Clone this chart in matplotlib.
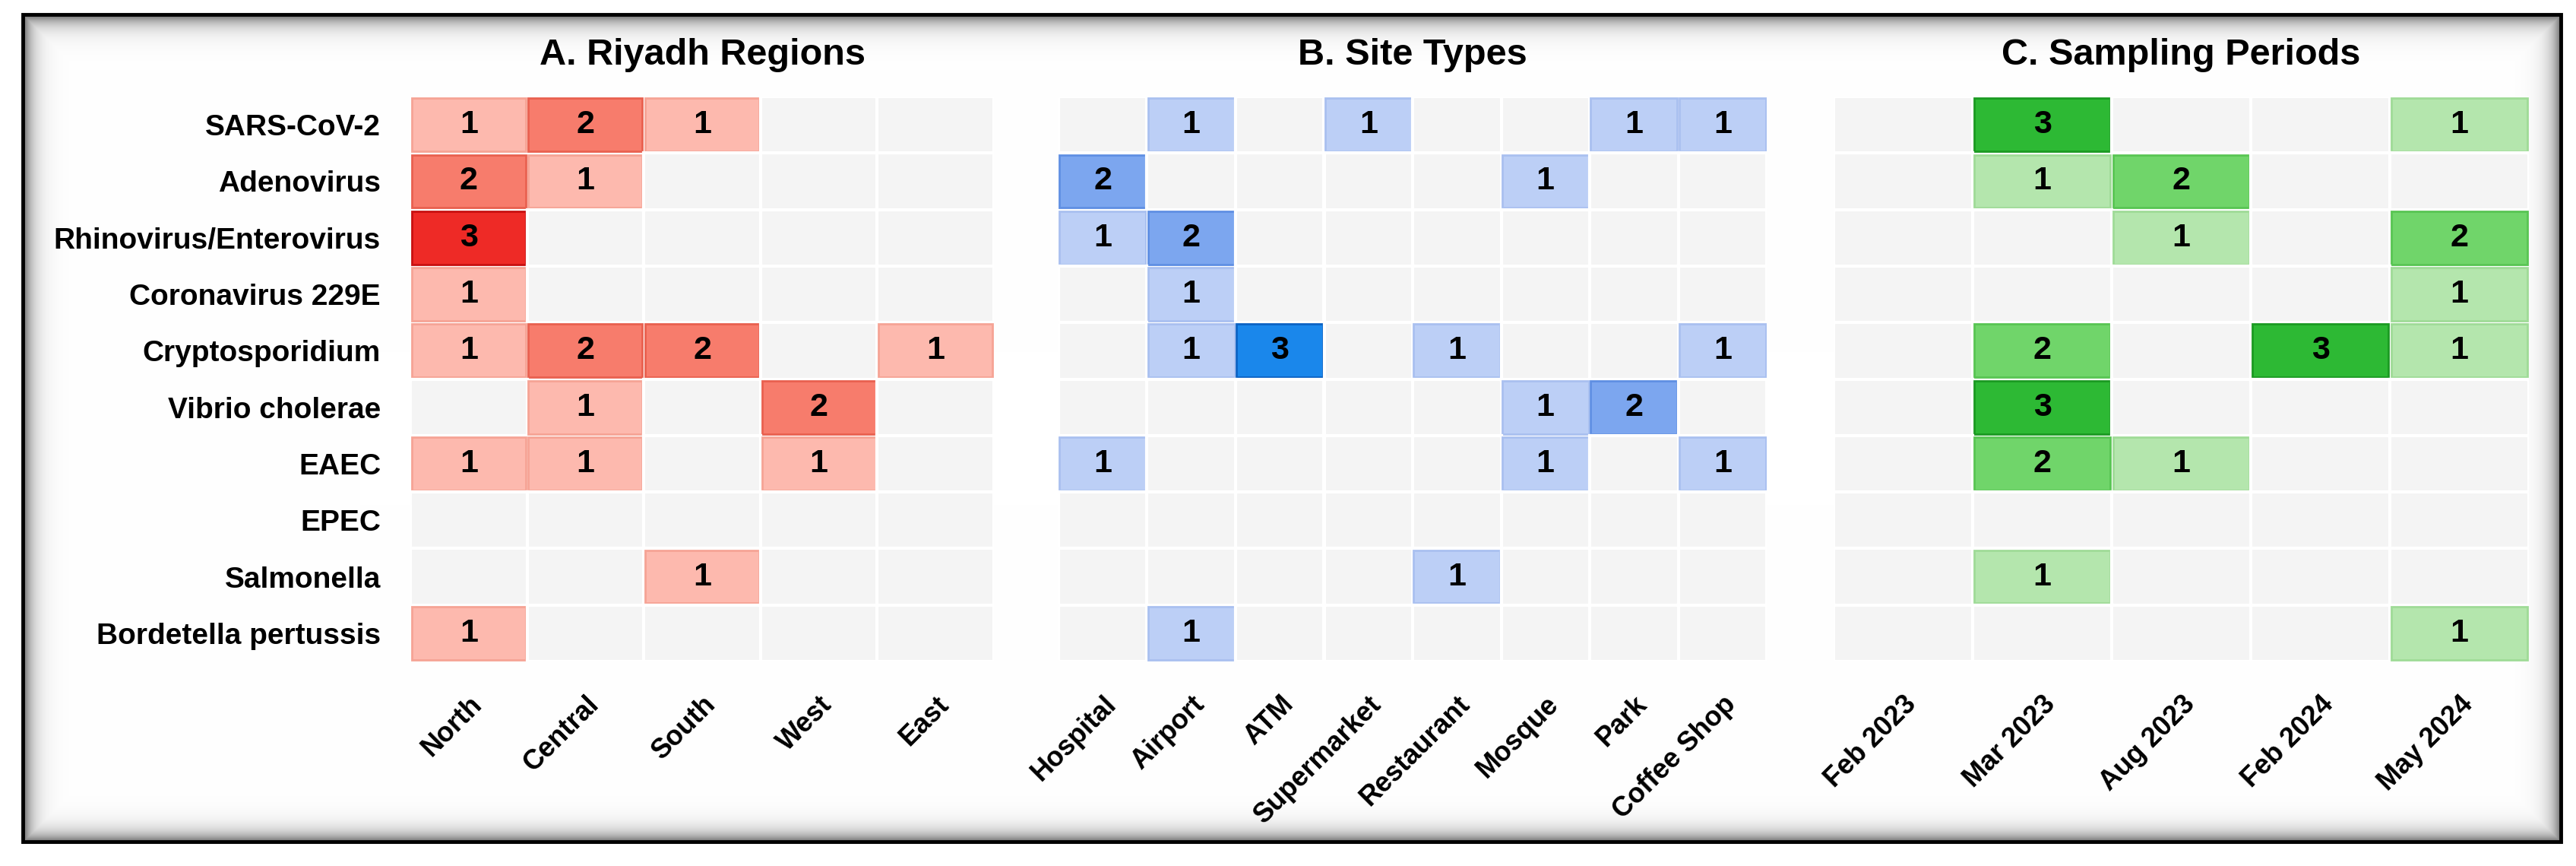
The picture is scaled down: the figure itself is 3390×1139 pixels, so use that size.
import numpy as np
import matplotlib
matplotlib.use('Agg')
import matplotlib.pyplot as plt
from matplotlib.patches import Rectangle

plt.rcParams['font.family'] = ['Liberation Sans', 'DejaVu Sans']
plt.rcParams['font.weight'] = 'bold'

# filas (patogenos)
pathogens = ['SARS-CoV-2', 'Adenovirus', 'Rhinovirus/Enterovirus', 'Coronavirus 229E',
             'Cryptosporidium', 'Vibrio cholerae', 'EAEC', 'EPEC', 'Salmonella',
             'Bordetella pertussis']

# A. regiones
regions = ['North', 'Central', 'South', 'West', 'East']
region_counts = [
    [1, 2, 1, 0, 0],
    [2, 1, 0, 0, 0],
    [3, 0, 0, 0, 0],
    [1, 0, 0, 0, 0],
    [1, 2, 2, 0, 1],
    [0, 1, 0, 2, 0],
    [1, 1, 0, 1, 0],
    [0, 0, 0, 0, 0],
    [0, 0, 1, 0, 0],
    [1, 0, 0, 0, 0],
]

# B. tipos de sitio
sites = ['Hospital', 'Airport', 'ATM', 'Supermarket', 'Restaurant', 'Mosque', 'Park', 'Coffee Shop']
site_counts = [
    [0, 1, 0, 1, 0, 0, 1, 1],
    [2, 0, 0, 0, 0, 1, 0, 0],
    [1, 2, 0, 0, 0, 0, 0, 0],
    [0, 1, 0, 0, 0, 0, 0, 0],
    [0, 1, 3, 0, 1, 0, 0, 1],
    [0, 0, 0, 0, 0, 1, 2, 0],
    [1, 0, 0, 0, 0, 1, 0, 1],
    [0, 0, 0, 0, 0, 0, 0, 0],
    [0, 0, 0, 0, 1, 0, 0, 0],
    [0, 1, 0, 0, 0, 0, 0, 0],
]

# C. periodos de muestreo
periods = ['Feb 2023', 'Mar 2023', 'Aug 2023', 'Feb 2024', 'May 2024']
period_counts = [
    [0, 3, 0, 0, 1],
    [0, 1, 2, 0, 0],
    [0, 0, 1, 0, 2],
    [0, 0, 0, 0, 1],
    [0, 2, 0, 3, 1],
    [0, 3, 0, 0, 0],
    [0, 2, 1, 0, 0],
    [0, 0, 0, 0, 0],
    [0, 1, 0, 0, 0],
    [0, 0, 0, 0, 1],
]

EMPTY = '#f4f4f4'
reds = ['#fdb9ae', '#f77c6c', '#ee2a26']
reds_edge = ['#f6a395', '#e9604f', '#c81010']
blues = ['#bccff6', '#7ca6ef', '#1a87eb']
blues_edge = ['#a9c0f0', '#5f8fe3', '#0b62c4']
greens = ['#b4e6ad', '#70d56a', '#2db934']
greens_edge = ['#9fdb97', '#58c553', '#1b9a22']

W, H = 3391, 1139
fig = plt.figure(figsize=(W / 100, H / 100), dpi=100)

# marco con sombra interior
bg = fig.add_axes([0, 0, 1, 1], zorder=-10)
x0, x1, y0, y1 = 32, 3368, 21, 1105
xx, yy = np.meshgrid(np.arange(W), np.arange(H))
d = np.minimum.reduce([xx - x0, x1 - xx, yy - y0, y1 - yy]).astype(float)
shade = np.where(d >= 0, 1 - 0.52 * np.exp(-np.clip(d, 0, None) / 12.0), 1.0)
img = np.dstack([shade, shade, shade])
bg.imshow(img, extent=[0, W, H, 0], aspect='auto', interpolation='nearest')
bg.add_patch(Rectangle((x0 - 2, y0 - 2), x1 - x0 + 4, y1 - y0 + 4, fill=False,
                       edgecolor='black', linewidth=3.5))
bg.set_xlim(0, W)
bg.set_ylim(H, 0)
bg.axis('off')


def draw_panel(rect, data, cols, title, colors, edges, show_rows):
    ax = fig.add_axes(rect)
    data = np.array(data)
    nr, nc = data.shape
    for i in range(nr):
        for j in range(nc):
            v = data[i, j]
            if v == 0:
                ax.add_patch(Rectangle((j, i), 1, 1, facecolor=EMPTY,
                                       edgecolor='white', linewidth=3))
            else:
                ax.add_patch(Rectangle((j, i), 1, 1, facecolor='white',
                                       edgecolor='white', linewidth=0))
                ax.add_patch(Rectangle((j + 0.012, i + 0.03), 0.976, 0.94,
                                       facecolor=colors[v - 1], edgecolor=edges[v - 1],
                                       linewidth=2))
                ax.text(j + 0.5, i + 0.5, str(v), ha='center', va='center',
                        fontsize=31, fontweight='bold', color='black')
    ax.set_xlim(0, nc)
    ax.set_ylim(nr, 0)
    ax.set_xticks(np.arange(nc) + 0.5)
    ax.set_xticklabels(cols, rotation=45, ha='right', rotation_mode='anchor',
                       fontsize=26, fontweight='bold')
    ax.set_yticks(np.arange(nr) + 0.5)
    if show_rows:
        ax.set_yticklabels(pathogens, fontsize=28, fontweight='bold')
    else:
        ax.set_yticklabels([])
    ax.tick_params(axis='both', length=0)
    ax.tick_params(axis='x', pad=28)
    ax.tick_params(axis='y', pad=28)
    for s in ax.spines.values():
        s.set_visible(False)
    ax.set_title(title, fontsize=35, fontweight='bold', pad=30)
    return ax


bottom = 1 - 870 / H
height = (870 - 127) / H
draw_panel([540 / W, bottom, 768 / W, height], region_counts, regions,
           'A. Riyadh Regions', reds, reds_edge, True)
draw_panel([1393 / W, bottom, 932 / W, height], site_counts, sites,
           'B. Site Types', blues, blues_edge, False)
draw_panel([2413 / W, bottom, 915 / W, height], period_counts, periods,
           'C. Sampling Periods', greens, greens_edge, False)

fig.savefig('out.png', dpi=100)
